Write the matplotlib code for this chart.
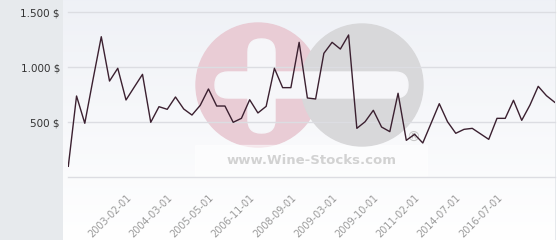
import numpy as np
import matplotlib
matplotlib.use("Agg")
import matplotlib.pyplot as plt
from matplotlib.patches import Circle, FancyBboxPatch, Rectangle

# price history, one value per quote (USD)
prices = [100, 739, 491, 890, 1278, 875, 991, 703, 820, 936,
          500, 642, 618, 730, 621, 566, 654, 803, 648, 648,
          500, 536, 705, 585, 645, 991, 815, 815, 1227, 721,
          712, 1127, 1227, 1166, 1294, 445, 505, 609, 457, 415,
          764, 336, 391, 312, 490, 669, 505, 400, 436, 445,
          395, 345, 536, 536, 700, 518, 657, 827, 742, 682]

# labelled categories on the x axis
label_idx = [7, 12, 17, 22, 27, 32, 37, 42, 47, 52]
label_txt = ['2003-02-01', '2004-03-01', '2005-05-01', '2006-11-01', '2008-09-01',
             '2009-03-01', '2009-10-01', '2011-02-01', '2014-07-01', '2016-07-01']

y_ticks = [500, 1000, 1500]
y_tick_txt = ['500 $', '1.000 $', '1.500 $']

W, H = 560, 240
fig = plt.figure(figsize=(W / 100, H / 100), dpi=100)
fig.patch.set_facecolor('#e7eaed')

# background layer in pixel coords: gradient + watermark
bg = fig.add_axes([0, 0, 1, 1], zorder=0)
bg.set_xlim(0, W)
bg.set_ylim(H, 0)
bg.axis('off')
grad = np.linspace(0, 1, 256).reshape(-1, 1)
top = np.array([0.937, 0.945, 0.965])
bot = np.array([1.0, 1.0, 1.0])
img = top + (bot - top) * grad[:, :, None]
bg.imshow(img, extent=[63, 555, H, 0], aspect='auto', zorder=0)
bg.plot([555.5, 555.5], [0, H], color='#cdd0d4', lw=1, zorder=1)
bg.add_patch(Rectangle((555.5, 0), 5, H, color='white', zorder=1))

# watermark logo
bg.add_patch(Circle((258, 85), 62, color='#e9ccd5', zorder=2))
bg.add_patch(Circle((362, 85), 61, color='#d8d8da', zorder=3))
bg.add_patch(FancyBboxPatch((215, 72), 193, 26, boxstyle='round,pad=0,rounding_size=13',
                            color='#f6f6f9', zorder=4))
bg.add_patch(FancyBboxPatch((248, 39), 27, 94, boxstyle='round,pad=0,rounding_size=13',
                            color='#f6f6f9', zorder=4))
bg.add_patch(Rectangle((195, 145), 232, 31, color='white', alpha=0.5, zorder=2))
bg.text(312, 160, 'www.Wine-Stocks.com', ha='center', va='center', fontsize=9.5,
        fontweight='bold', color='#d2d2d2', zorder=5)
bg.text(413, 138, '\u00ae', ha='center', va='center', fontsize=10, color='#c6c6c6', zorder=5)

# main chart
ax = fig.add_axes([68.3 / W, 1 - 177.3 / H, (554.7 - 68.3) / W, (177.3 - 12.3) / H], zorder=1)
ax.patch.set_visible(False)
x = np.arange(len(prices))
ax.plot(x, prices, color='#3b2030', lw=1.0, zorder=3)
ax.set_xlim(0, len(prices) - 1)
ax.set_ylim(0, 1500)

for v in [0] + y_ticks:
    ax.axhline(v, color='#dcdde2', lw=1, zorder=1, clip_on=False)

for s in ax.spines.values():
    s.set_visible(False)

ax.set_yticks(y_ticks)
ax.set_yticklabels(y_tick_txt, fontsize=7.5, color='#333333')
ax.tick_params(axis='y', length=0, pad=6)

ax.set_xticks(label_idx)
ax.set_xticklabels(label_txt, rotation=45, ha='right', va='top', rotation_mode='anchor',
                   fontsize=7, color='#9a9a9a')
ax.tick_params(axis='x', length=0, pad=11)

fig.savefig('out.png', dpi=100)
